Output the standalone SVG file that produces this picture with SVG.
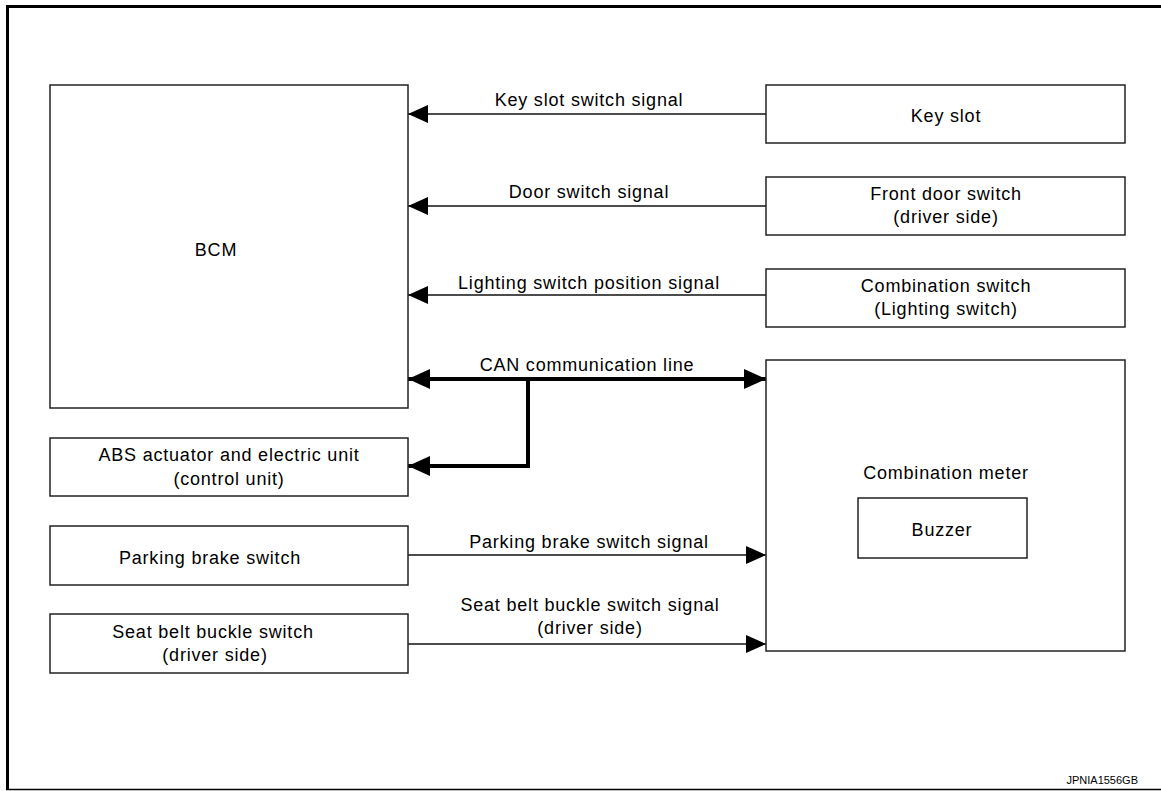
<svg xmlns="http://www.w3.org/2000/svg" width="1161" height="791" viewBox="0 0 1161 791">
<style>
.box{fill:#fff;stroke:#222;stroke-width:1.5}
.t{font-family:"Liberation Sans",Arial,sans-serif;font-size:18px;letter-spacing:0.8px;fill:#000;text-anchor:middle}
.sig{stroke:#111;stroke-width:1.5;fill:none}
.can{stroke:#000;stroke-width:4;fill:none}
</style>
<defs>
<marker id="ah" markerUnits="userSpaceOnUse" markerWidth="20" markerHeight="18" refX="20" refY="9" orient="auto-start-reverse"><path d="M0,0 L20,9 L0,18 Z" fill="#000"/></marker>
<marker id="ahc" markerUnits="userSpaceOnUse" markerWidth="22" markerHeight="20" refX="22" refY="10" orient="auto-start-reverse"><path d="M0,0 L22,10 L0,20 Z" fill="#000"/></marker>
</defs>
<rect width="1161" height="791" fill="#fff"/>
<g id="frame">
<line x1="7.5" y1="6.5" x2="1161" y2="6.5" stroke="#000" stroke-width="3"/>
<line x1="7.5" y1="5" x2="7.5" y2="789" stroke="#000" stroke-width="3"/>
<line x1="6" y1="789.5" x2="1161" y2="789.5" stroke="#000" stroke-width="1.5"/>
</g>
<g id="connectors">
<line class="sig" x1="766" y1="114" x2="408" y2="114" marker-end="url(#ah)"/>
<line class="sig" x1="766" y1="206" x2="408" y2="206" marker-end="url(#ah)"/>
<line class="sig" x1="766" y1="295" x2="408" y2="295" marker-end="url(#ah)"/>
<line class="can" x1="408" y1="379" x2="766" y2="379" marker-start="url(#ahc)" marker-end="url(#ahc)"/>
<polyline class="can" points="528,379 528,466 408,466" marker-end="url(#ahc)"/>
<line class="sig" x1="408" y1="555" x2="766" y2="555" marker-end="url(#ah)"/>
<line class="sig" x1="408" y1="644" x2="766" y2="644" marker-end="url(#ah)"/>
<text class="t" x="589" y="106">Key slot switch signal</text>
<text class="t" x="589" y="198">Door switch signal</text>
<text class="t" x="589" y="289">Lighting switch position signal</text>
<text class="t" x="587" y="371">CAN communication line</text>
<text class="t" x="589" y="548">Parking brake switch signal</text>
<text class="t" x="590" y="611">Seat belt buckle switch signal</text>
<text class="t" x="590" y="634">(driver side)</text>
</g>
<g id="bcm"><rect class="box" x="50" y="85" width="358" height="323"/><text class="t" x="216" y="256">BCM</text></g>
<g id="keyslot"><rect class="box" x="766" y="85" width="359" height="58"/><text class="t" x="946" y="122">Key slot</text></g>
<g id="frontdoor"><rect class="box" x="766" y="177" width="359" height="58"/><text class="t" x="946" y="200">Front door switch</text><text class="t" x="946" y="223">(driver side)</text></g>
<g id="combsw"><rect class="box" x="766" y="269" width="359" height="58"/><text class="t" x="946" y="292">Combination switch</text><text class="t" x="946" y="315">(Lighting switch)</text></g>
<g id="abs"><rect class="box" x="50" y="438" width="358" height="58"/><text class="t" x="229" y="461">ABS actuator and electric unit</text><text class="t" x="229" y="485">(control unit)</text></g>
<g id="meter"><rect class="box" x="766" y="360" width="359" height="291"/><text class="t" x="946" y="479">Combination meter</text></g>
<g id="buzzer"><rect class="box" x="858" y="498" width="169" height="60"/><text class="t" x="942" y="536">Buzzer</text></g>
<g id="parking"><rect class="box" x="50" y="526" width="358" height="59"/><text class="t" x="210" y="564">Parking brake switch</text></g>
<g id="seatbelt"><rect class="box" x="50" y="614" width="358" height="59"/><text class="t" x="213" y="638">Seat belt buckle switch</text><text class="t" x="215" y="661">(driver side)</text></g>
<text x="1138" y="784" font-family="'Liberation Sans',Arial,sans-serif" font-size="11" text-anchor="end">JPNIA1556GB</text>
</svg>
